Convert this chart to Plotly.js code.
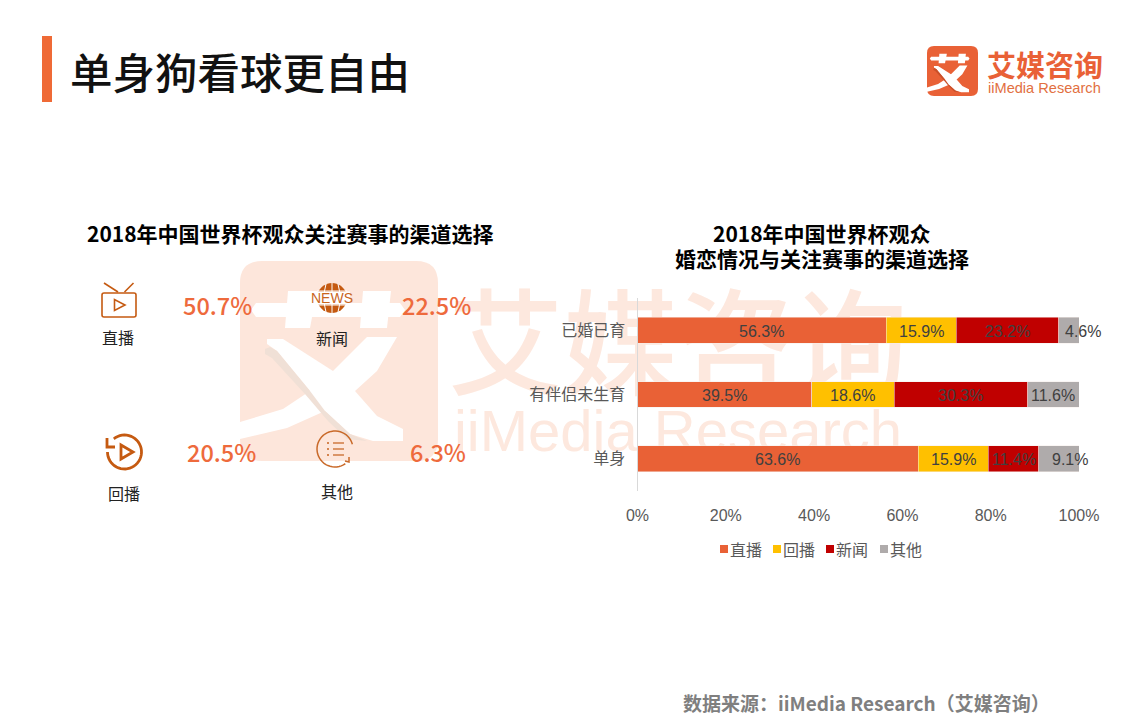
<!DOCTYPE html>
<html>
<head>
<meta charset="utf-8">
<script src="https://cdn.plot.ly/plotly-3.0.1.min.js"></script>
<style>html,body{margin:0;padding:0;background:#fff;overflow:hidden}#c{width:1124px;height:724px}</style>
</head>
<body>
<div id="c"></div>
<script>
var categories = ['已婚已育', '有伴侣未生育', '单身'];
var seriesNames = ['直播', '回播', '新闻', '其他'];
var liveValues = [56.3, 39.5, 63.6];
var replayValues = [15.9, 18.6, 15.9];
var newsValues = [23.2, 30.3, 11.4];
var otherValues = [4.6, 11.6, 9.1];
var seriesColors = ['#E96136', '#FFC000', '#C00000', '#AFABAB'];
var overallNames = ['直播', '新闻', '回播', '其他'];
var overallValues = [50.7, 22.5, 20.5, 6.3];
var xTicks = [0, 20, 40, 60, 80, 100];

var CJK = '"Noto Sans CJK SC","Noto Sans",sans-serif';
var LAT = '"Liberation Sans",Arial,sans-serif';
var ORANGE = '#C55A11';
var allSeries = [liveValues, replayValues, newsValues, otherValues];

function arc(cx, cy, r, a0, a1) {
  var s = '';
  for (var i = 0; i <= 40; i++) {
    var a = (a0 + (a1 - a0) * i / 40) * Math.PI / 180;
    s += (i ? 'L' : 'M') + (cx + r * Math.cos(a)).toFixed(2) + ',' + (cy + r * Math.sin(a)).toFixed(2);
  }
  return s;
}
function rr(x0, y0, x1, y1, r) {
  return 'M' + (x0 + r) + ',' + y0 + 'L' + (x1 - r) + ',' + y0 + 'Q' + x1 + ',' + y0 + ',' + x1 + ',' + (y0 + r) +
    'L' + x1 + ',' + (y1 - r) + 'Q' + x1 + ',' + y1 + ',' + (x1 - r) + ',' + y1 +
    'L' + (x0 + r) + ',' + y1 + 'Q' + x0 + ',' + y1 + ',' + x0 + ',' + (y1 - r) +
    'L' + x0 + ',' + (y0 + r) + 'Q' + x0 + ',' + y0 + ',' + (x0 + r) + ',' + y0 + 'Z';
}
function stroke(path, w, color) {
  return {type: 'path', xref: 'x', yref: 'y', path: path, line: {color: color || ORANGE, width: w}, layer: 'above'};
}
function fill(path, color, layer) {
  return {type: 'path', xref: 'x', yref: 'y', path: path, fillcolor: color || ORANGE, line: {width: 0}, layer: layer || 'above'};
}
function label(x, y, text, size, color, fam, extra) {
  var a = {xref: 'x', yref: 'y', x: x, y: y, text: text, showarrow: false, xanchor: 'center', yanchor: 'middle',
    font: {size: size, color: color, family: fam || CJK}};
  if (extra) for (var k in extra) { if (k === 'weight') a.font.weight = extra[k]; else a[k] = extra[k]; }
  return a;
}

/* logo emblem outlines, in the emblem's own 0-198 by 0-200 box */
var emblemParts = {
  bar: [[16, 42], [160, 42], [165, 49], [160, 56], [16, 56], [11, 49]],
  left: [[48, 30], [77, 30], [70, 67], [45, 67]],
  right: [[123, 30], [151, 30], [147, 67], [120, 67]],
  armA: [[127, 76], [157, 76], [137, 110], [115, 130], [85, 150], [47, 167], [0, 178], [0, 161], [43, 148], [70, 130], [93, 110]],
  armB: [[27, 78], [43, 78], [93, 110], [115, 130], [137, 155], [163, 168], [163, 180], [133, 180], [110, 173], [85, 150], [70, 130], [37, 90], [27, 83]],
  shade: [[25, 88], [30, 86], [37, 90], [70, 130], [85, 150], [110, 173], [127, 180], [107, 178], [88, 160], [65, 133], [32, 97], [25, 93]]
};
function emblem(ox, oy, k, part) {
  return emblemParts[part].map(function (p, i) {
    return (i ? 'L' : 'M') + (ox + p[0] * k).toFixed(2) + ',' + (oy + p[1] * k).toFixed(2);
  }).join('') + 'Z';
}

var traces = [];
/* watermark words sit on the pixel-scale subplot, drawn first and so behind the bars */
traces.push({type: 'scatter', mode: 'text', x: [678], y: [357], text: ['艾媒咨询'], xaxis: 'x', yaxis: 'y',
  textfont: {size: 115, color: '#FDE8DE', family: CJK, weight: 500}, hoverinfo: 'skip', showlegend: false});
traces.push({type: 'scatter', mode: 'text', x: [678], y: [436], text: ['iiMedia Research'], xaxis: 'x', yaxis: 'y',
  textfont: {size: 58, color: '#FDE8DE', family: LAT}, hoverinfo: 'skip', showlegend: false});
seriesNames.forEach(function (n, i) {
  traces.push({type: 'bar', orientation: 'h', name: n, x: allSeries[i], y: categories, xaxis: 'x2', yaxis: 'y2',
    marker: {color: seriesColors[i], line: {color: '#f6eeea', width: 0.5}}, hoverinfo: 'skip', showlegend: false});
});

var annotations = [];
var labelShift = {'3-0': 14, '3-2': 11};
categories.forEach(function (c, ci) {
  var cum = 0;
  allSeries.forEach(function (vals, si) {
    var v = vals[ci];
    annotations.push({xref: 'x2', yref: 'y2', x: cum + v / 2, y: c, text: v.toFixed(1) + '%', showarrow: false,
      xshift: labelShift[si + '-' + ci] || 0, yshift: -1, font: {size: 16, color: '#404040', family: LAT}});
    cum += v;
  });
});

annotations.push(label(240, 70, '单身狗看球更自由', 42.5, '#111111', CJK, {weight: 500}));
annotations.push(label(290, 232.5, '2018年中国世界杯观众关注赛事的渠道选择', 21, '#000000', CJK, {weight: 700}));
annotations.push(label(822, 232.5, '2018年中国世界杯观众', 21, '#000000', CJK, {weight: 700}));
annotations.push(label(822, 257.5, '婚恋情况与关注赛事的渠道选择', 21, '#000000', CJK, {weight: 700}));
annotations.push(label(866, 702, '数据来源：iiMedia Research（艾媒咨询）', 19, '#7F7F7F', CJK, {weight: 700}));

annotations.push(label(1045, 64, '艾媒咨询', 29, '#E96136', CJK, {weight: 700}));
annotations.push(label(1044.5, 88, 'iiMedia Research', 14.6, '#E2703F', LAT));

var overallPct = [[217, 305], [436, 305], [221, 452], [438, 452]];
var overallLab = [[118, 337], [332, 338], [124, 493], [337, 491]];
overallNames.forEach(function (n, i) {
  annotations.push(label(overallPct[i][0], overallPct[i][1], overallValues[i].toFixed(1) + '%', 23.5, '#EE6A3C', CJK, {weight: 500}));
  annotations.push(label(overallLab[i][0], overallLab[i][1], n, 16, '#222222'));
});
annotations.push(label(332, 298, 'NEWS', 14, '#C9651E', LAT));

var legendX = [720, 773, 826, 880];
seriesNames.forEach(function (n, i) {
  annotations.push(label(legendX[i] + 8, 549, n, 16, '#595959', CJK, {xanchor: 'left'}));
});

var shapes = [];
shapes.push(fill('M42,36L52,36L52,102L42,102Z', '#EF6A36'));
shapes.push(fill(rr(240, 261, 438, 461, 22), '#FDE6DB', 'below'));
['bar', 'left', 'right', 'armA', 'armB'].forEach(function (p) {
  shapes.push(fill(emblem(240, 261, 1, p), '#ffffff', 'below'));
});
shapes.push(fill(emblem(240, 261, 1, 'shade'), '#F0E0D6', 'below'));
shapes.push(fill(rr(927, 46, 978, 96, 7), '#E96136'));
['bar', 'left', 'right', 'armA', 'armB'].forEach(function (p) {
  shapes.push(fill(emblem(927, 46, 0.2576, p), '#ffffff'));
});
shapes.push(fill(emblem(927, 46, 0.2576, 'shade'), '#C9502A'));
seriesNames.forEach(function (n, i) {
  shapes.push(fill('M' + legendX[i] + ',545L' + (legendX[i] + 8) + ',545L' + (legendX[i] + 8) + ',553L' + legendX[i] + ',553Z', seriesColors[i]));
});

/* TV icon */
shapes.push(stroke(rr(102, 293, 136, 317, 2), 1.6));
shapes.push(stroke('M104,283L118,292', 1.6));
shapes.push(stroke('M133.5,283L124.5,292', 1.6));
shapes.push(stroke('M114.5,299.5L114.5,310.5L125,305Z', 1.6));

/* news icon */
shapes.push(fill(arc(332, 298, 15, 0, 360) + 'Z'));
shapes.push(stroke('M317,291L347,291', 1, '#ffffff'));
shapes.push(stroke('M317,305L347,305', 1, '#ffffff'));
shapes.push(stroke('M332,283L332,313', 1, '#ffffff'));
shapes.push(stroke('M326,284Q322,298,326,312', 1, '#ffffff'));
shapes.push(stroke('M338,284Q342,298,338,312', 1, '#ffffff'));
shapes.push(fill('M314,291.5L350,291.5L350,304.5L314,304.5Z', '#ffffff'));

/* replay icon */
shapes.push(stroke(arc(124.5, 452, 17, -129, 180), 2.8));
shapes.push(stroke('M107,438L107,447L115,447', 2.8));
shapes.push(stroke('M121,445L121,459L133,452Z', 2.8));

/* other icon */
shapes.push(stroke(arc(335, 449, 18, 55, 345), 1.5, '#C96A2A'));
shapes.push(stroke('M349,457L349,462L345,461', 1.5, '#C96A2A'));
[443, 449, 455].forEach(function (y) {
  shapes.push(stroke('M333,' + y + 'L344,' + y, 1.3, '#C96A2A'));
  shapes.push(fill(arc(328, y, 1, 0, 360) + 'Z', '#C96A2A'));
});

var layout = {
  width: 1124, height: 724, margin: {l: 0, r: 0, t: 0, b: 0},
  paper_bgcolor: '#ffffff', plot_bgcolor: 'rgba(0,0,0,0)', showlegend: false,
  barmode: 'stack', bargap: 0.6,
  xaxis: {domain: [0, 1], range: [0, 1124], visible: false, fixedrange: true},
  yaxis: {domain: [0, 1], range: [724, 0], visible: false, fixedrange: true},
  xaxis2: {domain: [637.5 / 1124, 1079 / 1124], range: [0, 100], anchor: 'y2', tickvals: xTicks, ticktext: xTicks.map(function (t) { return t + '%'; }),
    showgrid: false, zeroline: false, showline: false, ticks: '', ticklabelstandoff: 13,
    tickfont: {size: 16, color: '#595959', family: LAT}},
  yaxis2: {domain: [1 - 491 / 724, 1 - 298 / 724], anchor: 'x2', type: 'category', categoryorder: 'array', categoryarray: categories, autorange: 'reversed',
    showgrid: false, zeroline: false, showline: true, linecolor: '#D9D9D9', linewidth: 1, ticks: '', ticklabelstandoff: 8,
    tickfont: {size: 16, color: '#595959', family: CJK}},
  shapes: shapes, annotations: annotations
};
Plotly.newPlot('c', traces, layout, {displayModeBar: false, staticPlot: true});
</script>
</body>
</html>
